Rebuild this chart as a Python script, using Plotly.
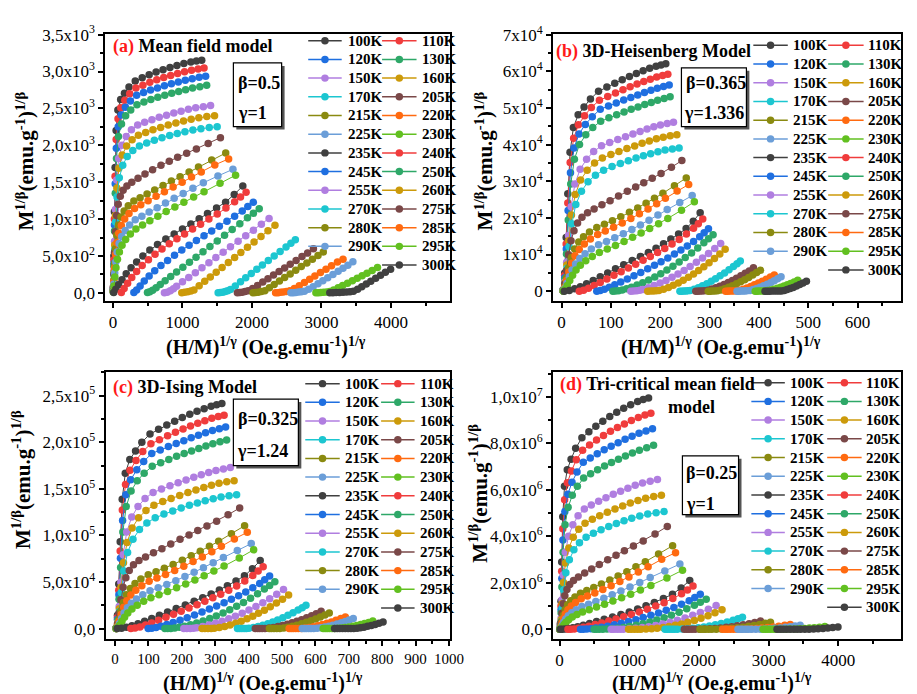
import plotly.graph_objects as go

W, H = 917, 694

# ---------------- data (x = H/M, y = M^2) ----------------
TEMPS = [100, 110, 120, 130, 150, 160, 170, 205, 215, 220, 225, 230, 235,
         240, 245, 250, 255, 260, 270, 275, 280, 285, 290, 295, 300]

X_100 = [5, 12, 20, 30, 45, 70, 110, 165, 230, 320, 420, 520, 620, 720, 820, 920, 1020, 1120, 1200, 1277]
Y_100 = [80, 500, 1100, 1700, 2200, 2480, 2620, 2705, 2790, 2870, 2915, 2955, 2992, 3025, 3055, 3083, 3108, 3130, 3143, 3154]
X_110 = [5, 12, 20, 30, 46, 72, 112, 170, 240, 330, 430, 530, 630, 730, 830, 930, 1030, 1130, 1225, 1310]
Y_110 = [70, 450, 1000, 1580, 2080, 2360, 2510, 2610, 2700, 2775, 2815, 2853, 2887, 2918, 2946, 2972, 2996, 3018, 3035, 3048]
X_120 = [5, 12, 21, 32, 48, 75, 118, 178, 250, 340, 440, 540, 640, 740, 840, 940, 1040, 1140, 1240, 1333]
Y_120 = [60, 400, 920, 1480, 1960, 2250, 2410, 2515, 2600, 2680, 2715, 2748, 2778, 2806, 2833, 2858, 2882, 2903, 2921, 2937]
X_130 = [5, 13, 22, 33, 50, 78, 122, 182, 255, 345, 445, 545, 645, 745, 845, 945, 1045, 1145, 1250, 1348]
Y_130 = [50, 360, 840, 1350, 1820, 2120, 2290, 2400, 2480, 2550, 2587, 2620, 2651, 2679, 2705, 2730, 2753, 2775, 2795, 2813]
X_150 = [5, 13, 23, 35, 53, 82, 128, 190, 265, 355, 455, 560, 665, 770, 875, 980, 1085, 1190, 1300, 1404]
Y_150 = [40, 300, 700, 1130, 1530, 1820, 2000, 2120, 2210, 2275, 2312, 2347, 2379, 2409, 2437, 2463, 2488, 2508, 2524, 2538]
X_160 = [5, 13, 24, 36, 55, 85, 132, 196, 275, 365, 470, 575, 685, 795, 905, 1015, 1125, 1235, 1350, 1461]
Y_160 = [35, 280, 650, 1050, 1420, 1690, 1870, 1990, 2075, 2135, 2175, 2210, 2243, 2274, 2303, 2330, 2354, 2373, 2389, 2401]
X_170 = [5, 14, 25, 38, 58, 90, 140, 205, 285, 380, 485, 595, 705, 815, 925, 1035, 1150, 1265, 1385, 1499]
Y_170 = [30, 250, 590, 960, 1300, 1560, 1730, 1850, 1930, 1990, 2033, 2070, 2103, 2133, 2160, 2185, 2207, 2226, 2240, 2250]
X_205 = [5, 12, 22, 35, 52, 75, 105, 145, 200, 270, 360, 460, 570, 690, 810, 930, 1060, 1200, 1370, 1546]
Y_205 = [25, 250, 550, 830, 1050, 1200, 1310, 1390, 1450, 1500, 1555, 1610, 1670, 1730, 1785, 1838, 1892, 1950, 2025, 2104]
X_215 = [5, 12, 22, 35, 55, 80, 115, 160, 220, 300, 390, 490, 600, 720, 840, 965, 1095, 1230, 1420, 1622]
Y_215 = [20, 180, 400, 600, 780, 920, 1030, 1110, 1180, 1245, 1290, 1340, 1395, 1455, 1515, 1575, 1640, 1705, 1800, 1896]
X_220 = [5, 12, 23, 37, 57, 83, 120, 168, 230, 310, 400, 505, 620, 740, 865, 995, 1130, 1270, 1465, 1664]
Y_220 = [18, 150, 340, 520, 680, 810, 915, 1000, 1075, 1145, 1195, 1250, 1310, 1370, 1435, 1500, 1570, 1640, 1735, 1816]
X_225 = [5, 13, 25, 40, 60, 88, 125, 175, 240, 320, 415, 520, 635, 755, 880, 1010, 1150, 1300, 1510, 1726]
Y_225 = [15, 120, 270, 420, 555, 670, 765, 845, 920, 990, 1040, 1095, 1155, 1218, 1282, 1348, 1418, 1492, 1585, 1675]
X_230 = [5, 14, 27, 43, 64, 92, 130, 182, 250, 330, 425, 530, 645, 765, 890, 1020, 1160, 1310, 1540, 1764]
Y_230 = [12, 95, 215, 340, 455, 555, 645, 725, 800, 865, 920, 978, 1040, 1102, 1165, 1230, 1300, 1372, 1485, 1595]
X_235 = [10, 40, 80, 130, 190, 260, 340, 430, 530, 640, 760, 880, 1000, 1120, 1240, 1360, 1490, 1620, 1745, 1868]
Y_235 = [5, 50, 110, 180, 260, 340, 420, 500, 580, 655, 730, 800, 865, 935, 1005, 1075, 1150, 1230, 1335, 1449]
X_240 = [120, 160, 210, 270, 340, 420, 510, 605, 705, 810, 920, 1030, 1145, 1260, 1380, 1500, 1625, 1750, 1835, 1915]
Y_240 = [5, 60, 130, 210, 290, 370, 450, 525, 595, 665, 735, 800, 865, 930, 1000, 1070, 1150, 1235, 1300, 1364]
X_245 = [300, 340, 390, 450, 520, 600, 690, 785, 885, 990, 1095, 1200, 1310, 1420, 1530, 1640, 1750, 1860, 1940, 2019]
Y_245 = [5, 40, 95, 160, 230, 300, 370, 440, 510, 580, 645, 710, 775, 840, 905, 970, 1040, 1110, 1170, 1227]
X_250 = [496, 530, 570, 620, 680, 750, 830, 915, 1005, 1100, 1195, 1295, 1395, 1500, 1605, 1715, 1825, 1935, 2020, 2104]
Y_250 = [5, 15, 35, 70, 115, 165, 223, 284, 349, 417, 485, 557, 629, 705, 780, 859, 938, 1018, 1079, 1139]
X_255 = [740, 780, 825, 870, 915, 1000, 1090, 1185, 1280, 1380, 1480, 1585, 1690, 1800, 1910, 2020, 2135, 2246]
Y_255 = [3, 10, 28, 55, 90, 150, 210, 275, 340, 410, 480, 550, 625, 700, 775, 850, 930, 1010]
X_260 = [990, 1030, 1075, 1120, 1165, 1240, 1320, 1400, 1485, 1570, 1660, 1750, 1840, 1935, 2030, 2130, 2230, 2331]
Y_260 = [3, 8, 15, 25, 40, 96, 157, 217, 281, 345, 412, 480, 548, 619, 691, 766, 841, 917]
X_270 = [1513, 1545, 1580, 1615, 1650, 1690, 1760, 1835, 1910, 1990, 2070, 2150, 2235, 2320, 2405, 2490, 2560, 2624]
Y_270 = [2, 5, 10, 18, 30, 45, 95, 150, 205, 262, 320, 378, 440, 500, 562, 623, 673, 722]
X_275 = [1790, 1825, 1860, 1900, 1945, 2010, 2080, 2155, 2230, 2310, 2390, 2470, 2550, 2635, 2720, 2800, 2884]
Y_275 = [2, 5, 10, 18, 30, 60, 102, 148, 193, 242, 291, 339, 388, 440, 492, 540, 598]
X_280 = [2015, 2050, 2090, 2135, 2185, 2250, 2320, 2395, 2470, 2550, 2630, 2710, 2790, 2870, 2950, 3026]
Y_280 = [2, 5, 10, 18, 30, 70, 114, 161, 208, 257, 307, 357, 407, 457, 507, 554]
X_285 = [2340, 2375, 2410, 2450, 2495, 2545, 2610, 2680, 2755, 2830, 2905, 2985, 3065, 3145, 3230, 3310]
Y_285 = [2, 4, 8, 13, 20, 30, 60, 98, 142, 186, 230, 276, 322, 369, 418, 456]
X_290 = [2560, 2595, 2630, 2670, 2710, 2755, 2815, 2880, 2950, 3020, 3090, 3165, 3240, 3310, 3380, 3452]
Y_290 = [2, 4, 7, 11, 16, 24, 50, 85, 125, 165, 206, 249, 293, 333, 375, 421]
X_295 = [2920, 2955, 2990, 3030, 3075, 3120, 3175, 3240, 3305, 3375, 3445, 3515, 3585, 3655, 3730, 3806]
Y_295 = [2, 4, 7, 10, 14, 20, 40, 70, 100, 132, 165, 198, 232, 266, 304, 346]
X_300 = [3120, 3165, 3210, 3260, 3310, 3360, 3410, 3460, 3520, 3580, 3645, 3710, 3780, 3850, 3920, 3995]
Y_300 = [2, 3, 5, 7, 9, 12, 16, 22, 50, 85, 120, 158, 198, 238, 280, 320]

X_A = [X_100, X_110, X_120, X_130, X_150, X_160, X_170, X_205, X_215, X_220, X_225, X_230, X_235,
       X_240, X_245, X_250, X_255, X_260, X_270, X_275, X_280, X_285, X_290, X_295, X_300]
Y_A = [Y_100, Y_110, Y_120, Y_130, Y_150, Y_160, Y_170, Y_205, Y_215, Y_220, Y_225, Y_230, Y_235,
       Y_240, Y_245, Y_250, Y_255, Y_260, Y_270, Y_275, Y_280, Y_285, Y_290, Y_295, Y_300]

# critical exponents of the four models (panel a is beta=0.5, gamma=1)
BETA = [0.5, 0.365, 0.325, 0.25]
GAMMA = [1.0, 1.336, 1.24, 1.0]
BETA_TXT = ["β=0.5", "β=0.365", "β=0.325", "β=0.25"]
GAMMA_TXT = ["γ=1", "γ=1.336", "γ=1.24", "γ=1"]
LETTERS = ["(a)", "(b)", "(c)", "(d)"]
MODEL_NAMES = ["Mean field model", "3D-Heisenberg Model", "3D-Ising Model", "Tri-critical mean field"]

X_TICKS = [[0, 1000, 2000, 3000, 4000],
           [0, 100, 200, 300, 400, 500, 600],
           [0, 100, 200, 300, 400, 500, 600, 700, 800, 900, 1000],
           [0, 1000, 2000, 3000, 4000]]
Y_TICKS = [[0, 500, 1000, 1500, 2000, 2500, 3000, 3500],
           [0, 10000, 20000, 30000, 40000, 50000, 60000, 70000],
           [0, 50000, 100000, 150000, 200000, 250000],
           [0, 2e6, 4e6, 6e6, 8e6, 1e7]]
Y_TICKTEXT = [["0,0", "5,0x10<sup>2</sup>", "1,0x10<sup>3</sup>", "1,5x10<sup>3</sup>", "2,0x10<sup>3</sup>",
               "2,5x10<sup>3</sup>", "3,0x10<sup>3</sup>", "3,5x10<sup>3</sup>"],
              ["0", "1x10<sup>4</sup>", "2x10<sup>4</sup>", "3x10<sup>4</sup>", "4x10<sup>4</sup>",
               "5x10<sup>4</sup>", "6x10<sup>4</sup>", "7x10<sup>4</sup>"],
              ["0,0", "5,0x10<sup>4</sup>", "1,0x10<sup>5</sup>", "1,5x10<sup>5</sup>", "2,0x10<sup>5</sup>",
               "2,5x10<sup>5</sup>"],
              ["0,0", "2,0x10<sup>6</sup>", "4,0x10<sup>6</sup>", "6,0x10<sup>6</sup>", "8,0x10<sup>6</sup>",
               "1,0x10<sup>7</sup>"]]

# ---------------- styling / layout ----------------
COLORS = ["#404040", "#f03c3c", "#1f6fe0", "#2ea868", "#b07ee0", "#cc9a0a",
          "#1cc6d0", "#7a4848", "#8a8a10", "#ff6a10", "#6b9ed8", "#62c020"]
SERIF = "Liberation Serif"

# plot-area rectangles in pixels: (left, top, right, bottom)
BOXES = [(107, 22.7, 457, 295), (561.7, 22.7, 915, 295),
         (107.3, 367.3, 457, 640), (561.7, 367.3, 915, 640)]
X_RANGES = [[-110, 4850], [-17, 688], [-28, 1003], [-93, 4900]]
Y_RANGES = [[-110, 3505], [-2700, 70150], [-11250, 275500], [-4.2e5, 1.107e7]]
X_MINOR = [500, 50, 50, 500]
Y_MINOR = [250, 5000, 25000, 1e6]
X_TICKFONT = [17, 17, 15, 17]


def px(x):
    return x / W


def py(y):
    return 1 - y / H


fig = go.Figure()

for k in range(4):
    sfx = "" if k == 0 else str(k + 1)
    for i, T in enumerate(TEMPS):
        c = COLORS[i % len(COLORS)]
        # same isotherms re-plotted with the model exponents: x=(H/M)^(1/gamma), y=M^(1/beta)
        xs = [v ** (1.0 / GAMMA[k]) for v in X_A[i]]
        ys = [v ** (1.0 / (2 * BETA[k])) for v in Y_A[i]]
        fig.add_trace(go.Scatter(
            x=xs, y=ys, mode="lines+markers", name=f"{T}K",
            line=dict(color=c, width=1), marker=dict(color=c, size=7.5),
            xaxis="x" + sfx, yaxis="y" + sfx, showlegend=False))

    l, t, r, b = BOXES[k]
    axcommon = dict(showline=True, linecolor="black", linewidth=2, mirror=True,
                    showgrid=False, zeroline=False, ticks="outside", ticklen=5,
                    tickwidth=1.5, tickcolor="black",
                    tickfont=dict(family=SERIF, size=17, color="black"))
    fig.layout["xaxis" + sfx] = dict(
        axcommon, domain=[px(l), px(r)], anchor="y" + sfx, range=X_RANGES[k],
        tickmode="array", tickvals=X_TICKS[k], ticktext=[str(v) for v in X_TICKS[k]],
        tickfont=dict(family=SERIF, size=X_TICKFONT[k], color="black"),
        minor=dict(dtick=X_MINOR[k], tick0=0, ticks="outside", ticklen=3, tickcolor="black"))
    fig.layout["yaxis" + sfx] = dict(
        axcommon, domain=[py(b), py(t)], anchor="x" + sfx, range=Y_RANGES[k],
        tickmode="array", tickvals=Y_TICKS[k], ticktext=Y_TICKTEXT[k],
        minor=dict(dtick=Y_MINOR[k], tick0=0, ticks="outside", ticklen=3, tickcolor="black"))

annotations = []
shapes = []

# axis titles
YT_POS = [(26, 152), (492, 152), (22, 477), (486, 491)]
XT_POS = [(270, 341), (732, 341), (267, 684), (723, 684)]
for k in range(4):
    annotations.append(dict(
        x=px(YT_POS[k][0]), y=py(YT_POS[k][1]), xref="paper", yref="paper",
        text="<b>M<sup>1/β</sup>(emu.g<sup>-1</sup>)<sup>1/β</sup></b>", textangle=-90,
        showarrow=False, font=dict(family=SERIF, size=21, color="black"),
        xanchor="center", yanchor="middle"))
    annotations.append(dict(
        x=px(XT_POS[k][0]), y=py(XT_POS[k][1]), xref="paper", yref="paper",
        text="<b>(H/M)<sup>1/γ</sup> (Oe.g.emu<sup>-1</sup>)<sup>1/γ</sup></b>",
        showarrow=False, font=dict(family=SERIF, size=20, color="black"),
        xanchor="center", yanchor="middle"))

# panel titles
TITLE_POS = [(113, 35), (563, 40), (113, 383), (567, 380)]
for k in range(4):
    annotations.append(dict(
        x=px(TITLE_POS[k][0]), y=py(TITLE_POS[k][1]), xref="paper", yref="paper",
        text=f"<b><span style='color:#ff1a1a'>{LETTERS[k]}</span> {MODEL_NAMES[k]}</b>",
        showarrow=False, font=dict(family=SERIF, size=18, color="black"),
        xanchor="left", yanchor="middle"))
annotations.append(dict(
    x=px(702), y=py(403), xref="paper", yref="paper", text="<b>model</b>",
    showarrow=False, font=dict(family=SERIF, size=18, color="black"),
    xanchor="center", yanchor="middle"))

# beta / gamma boxes
EXP_BOX = [(237, 52, 286, 117), (692, 57, 758, 117), (237, 395, 303, 463), (693, 453, 750, 513)]
BETA_POS = [(240, 72), (695, 72), (240, 415), (695, 471)]
GAMMA_POS = [(240, 103), (693, 103), (239, 448), (695, 502)]
for k in range(4):
    x0, y0, x1, y1 = EXP_BOX[k]
    shapes.append(dict(type="rect", xref="paper", yref="paper",
                       x0=px(x0 + 3), x1=px(x1 + 3), y0=py(y1 + 3), y1=py(y0 + 3),
                       fillcolor="#555555", line=dict(width=0)))
    shapes.append(dict(type="rect", xref="paper", yref="paper",
                       x0=px(x0), x1=px(x1), y0=py(y1), y1=py(y0),
                       fillcolor="white", line=dict(color="black", width=1.2)))
    annotations.append(dict(
        x=px(BETA_POS[k][0]), y=py(BETA_POS[k][1]), xref="paper", yref="paper",
        text=f"<b>{BETA_TXT[k]}</b>", showarrow=False,
        font=dict(family=SERIF, size=18, color="black"), xanchor="left", yanchor="middle"))
    annotations.append(dict(
        x=px(GAMMA_POS[k][0]), y=py(GAMMA_POS[k][1]), xref="paper", yref="paper",
        text=f"<b>{GAMMA_TXT[k]}</b>", showarrow=False,
        font=dict(family=SERIF, size=18, color="black"), xanchor="left", yanchor="middle"))

# legends: two columns per panel (line+marker symbol, then label)
LEG = [  # (col1 line x0, x1, text x), (col2 line x0, x1, text x), first row y, row step
    ((313, 347, 351), (388, 423, 427), 29.3, 19.08),
    ((765, 800, 803), (841, 877, 879), 34.0, 19.1),
    ((310, 345, 348), (387, 421, 424), 379.3, 19.08),
    ((763, 797, 800), (840, 875, 877), 378.3, 19.1),
]
for k in range(4):
    col1, col2, y0, dy = LEG[k]
    for i, T in enumerate(TEMPS):
        c = COLORS[i % len(COLORS)]
        row, col = divmod(i, 2)
        if i == len(TEMPS) - 1:
            col = 1
        lx0, lx1, tx = col1 if col == 0 else col2
        yy = y0 + row * dy
        shapes.append(dict(type="line", xref="paper", yref="paper",
                           x0=px(lx0), x1=px(lx1), y0=py(yy), y1=py(yy),
                           line=dict(color=c, width=1.5)))
        cx = (lx0 + lx1) / 2
        rr = 3.8
        shapes.append(dict(type="circle", xref="paper", yref="paper",
                           x0=px(cx - rr), x1=px(cx + rr), y0=py(yy + rr), y1=py(yy - rr),
                           fillcolor=c, line=dict(width=0)))
        annotations.append(dict(
            x=px(tx), y=py(yy), xref="paper", yref="paper", text=f"<b>{T}K</b>",
            showarrow=False, font=dict(family=SERIF, size=15, color="black"),
            xanchor="left", yanchor="middle"))

fig.update_layout(
    width=W, height=H, margin=dict(l=0, r=0, t=0, b=0),
    paper_bgcolor="white", plot_bgcolor="white",
    annotations=annotations, shapes=shapes, showlegend=False,
    font=dict(family=SERIF, color="black"))

fig.write_html("out.html")
